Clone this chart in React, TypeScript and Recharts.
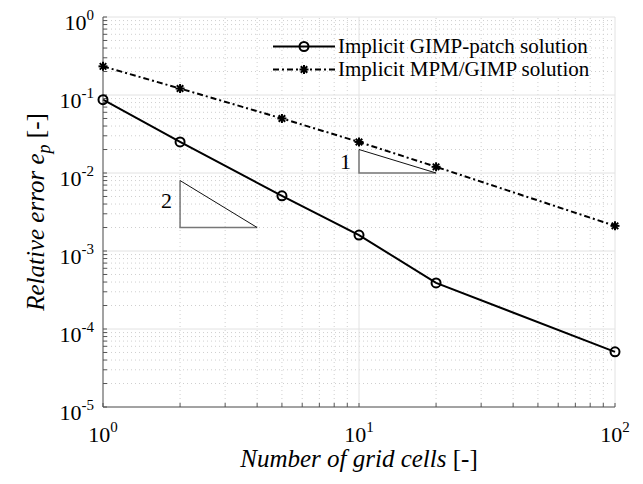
import { LineChart, Line, XAxis, YAxis, ReferenceLine, ReferenceDot, Legend, Label } from 'recharts';

// grid cells and relative errors
const CELLS = [1, 2, 5, 10, 20, 100];
const PATCH_ERR = [0.087, 0.025, 0.0051, 0.0016, 0.00039, 0.000051];
const MPM_ERR = [0.233, 0.121, 0.05, 0.025, 0.012, 0.0021];

// slope triangles (corner points, closed)
const SLOPE1_X = [10, 10, 20, 10];
const SLOPE1_Y = [0.02, 0.01, 0.01, 0.02];
const SLOPE2_X = [2, 2, 4, 2];
const SLOPE2_Y = [0.008, 0.002, 0.002, 0.008];

const X_DECADES = [1, 10, 100];
const Y_DECADES = [1e-5, 1e-4, 1e-3, 1e-2, 1e-1, 1];
const MINOR_STEPS = [2, 3, 4, 5, 6, 7, 8, 9];

const FONT = '"Liberation Serif", "Times New Roman", serif';
const AXIS_COLOR = '#555';

const minorOf = (decades: number[]) =>
  decades.slice(0, -1).flatMap(d => MINOR_STEPS.map(k => d * k));

const X_MINOR = minorOf(X_DECADES);
const Y_MINOR = minorOf(Y_DECADES);
const X_TICKS = [...X_DECADES, ...X_MINOR].sort((a, b) => a - b);
const Y_TICKS = [...Y_DECADES, ...Y_MINOR].sort((a, b) => a - b);

const data = CELLS.map((x, i) => ({ x, patch: PATCH_ERR[i], mpm: MPM_ERR[i] }));
const toPts = (xs: number[], ys: number[]) => xs.map((x, i) => ({ x, y: ys[i] }));
// legs = first three corners, hypotenuse = last two
const tri1Legs = toPts(SLOPE1_X.slice(0, 3), SLOPE1_Y.slice(0, 3));
const tri1Hyp = toPts(SLOPE1_X.slice(2), SLOPE1_Y.slice(2));
const tri2Legs = toPts(SLOPE2_X.slice(0, 3), SLOPE2_Y.slice(0, 3));
const tri2Hyp = toPts(SLOPE2_X.slice(2), SLOPE2_Y.slice(2));

const isDecade = (list: number[], v: number) => list.some(d => Math.abs(d - v) / d < 1e-9);

function XTick({ x, y, payload }: any) {
  if (!isDecade(X_DECADES, payload.value)) return null;
  const e = Math.round(Math.log10(payload.value));
  return (
    <text x={x} y={y + 39} textAnchor="middle" fontFamily={FONT} fontSize={22} fill="#000">
      <tspan>10</tspan>
      <tspan dy={-10} fontSize={15}>{e}</tspan>
    </text>
  );
}

function YTick({ x, y, payload }: any) {
  if (!isDecade(Y_DECADES, payload.value)) return null;
  const e = Math.round(Math.log10(payload.value));
  return (
    <text x={x - 13} y={y + 13} textAnchor="end" fontFamily={FONT} fontSize={22} fill="#000">
      <tspan>10</tspan>
      <tspan dy={-10} fontSize={15}>{e}</tspan>
    </text>
  );
}

function XTitle({ viewBox }: any) {
  return (
    <text x={viewBox.x + viewBox.width / 2} y={viewBox.y + 60} textAnchor="middle" fontFamily={FONT} fontSize={25} fill="#000">
      <tspan fontStyle="italic">Number of grid cells</tspan>
      <tspan> [-]</tspan>
    </text>
  );
}

function YTitle({ viewBox }: any) {
  const cx = viewBox.x + 1;
  const cy = viewBox.y + viewBox.height / 2;
  return (
    <text x={cx} y={cy} transform={`rotate(-90 ${cx} ${cy})`} textAnchor="middle" fontFamily={FONT} fontSize={25} fill="#000">
      <tspan fontStyle="italic">Relative error e</tspan>
      <tspan fontStyle="italic" fontSize={18} dy={6}>p</tspan>
      <tspan dy={-6}> [-]</tspan>
    </text>
  );
}

function Circle({ cx, cy }: any) {
  return <circle cx={cx} cy={cy} r={4.5} fill="none" stroke="#000" strokeWidth={2} />;
}

function Star({ cx, cy }: any) {
  const r = 4.5;
  const d = r * 0.72;
  return (
    <g stroke="#000" strokeWidth={2}>
      <line x1={cx - r} y1={cy} x2={cx + r} y2={cy} />
      <line x1={cx} y1={cy - r} x2={cx} y2={cy + r} />
      <line x1={cx - d} y1={cy - d} x2={cx + d} y2={cy + d} />
      <line x1={cx - d} y1={cy + d} x2={cx + d} y2={cy - d} />
    </g>
  );
}

const LEGEND_ROWS = [
  { name: 'Implicit GIMP-patch solution', dash: undefined, Mark: Circle },
  { name: 'Implicit MPM/GIMP solution', dash: '6 3 2 3', Mark: Star },
];

function LegendBox() {
  return (
    <div>
      {LEGEND_ROWS.map(row => (
        <div key={row.name} style={{ display: 'flex', alignItems: 'center', height: 23 }}>
          <svg width={64} height={23}>
            <line x1={0} y1={11.5} x2={62} y2={11.5} stroke="#000" strokeWidth={2} strokeDasharray={row.dash} />
            <row.Mark cx={31} cy={11.5} />
          </svg>
          <span style={{ fontFamily: FONT, fontSize: 21, lineHeight: '23px', color: '#000', marginLeft: 1, whiteSpace: 'nowrap' }}>
            {row.name}
          </span>
        </div>
      ))}
    </div>
  );
}

export default function App() {
  return (
    <LineChart width={627} height={468} data={data} margin={{ top: 9, right: 20, left: 35, bottom: 29 }}>
      {Y_MINOR.map(v => (
        <ReferenceLine key={`ym${v}`} y={v} stroke="#cfcfcf" strokeDasharray="1 3" />
      ))}
      {X_MINOR.map(v => (
        <ReferenceLine key={`xm${v}`} x={v} stroke="#cfcfcf" strokeDasharray="1 3" />
      ))}
      {Y_DECADES.map(v => (
        <ReferenceLine key={`yM${v}`} y={v} stroke="#e2e2e2" />
      ))}
      {X_DECADES.map(v => (
        <ReferenceLine key={`xM${v}`} x={v} stroke="#e2e2e2" />
      ))}

      <XAxis dataKey="x" type="number" scale="log" domain={[1, 100]} ticks={X_TICKS} interval={0}
        tickSize={-4} tickMargin={0} tick={<XTick />} height={40} stroke={AXIS_COLOR}>
        <Label content={XTitle} />
      </XAxis>
      <YAxis type="number" scale="log" domain={[1e-5, 1]} ticks={Y_TICKS} interval={0}
        tickSize={-4} tickMargin={0} tick={<YTick />} width={60} stroke={AXIS_COLOR}>
        <Label content={YTitle} />
      </YAxis>
      <XAxis xAxisId="top" orientation="top" dataKey="x" type="number" scale="log" domain={[1, 100]}
        ticks={X_TICKS} interval={0} tickSize={-4} tick={false} height={0} stroke={AXIS_COLOR} />
      <YAxis yAxisId="right" orientation="right" type="number" scale="log" domain={[1e-5, 1]}
        ticks={Y_TICKS} interval={0} tickSize={-4} tick={false} width={0} stroke={AXIS_COLOR} />

      <Line data={tri1Legs} dataKey="y" stroke="#777" strokeWidth={1.5} dot={false} isAnimationActive={false} legendType="none" />
      <Line data={tri1Hyp} dataKey="y" stroke="#111" strokeWidth={1} dot={false} isAnimationActive={false} legendType="none" />
      <Line data={tri2Legs} dataKey="y" stroke="#777" strokeWidth={1.5} dot={false} isAnimationActive={false} legendType="none" />
      <Line data={tri2Hyp} dataKey="y" stroke="#111" strokeWidth={1} dot={false} isAnimationActive={false} legendType="none" />
      <ReferenceDot x={10} y={0.0141} r={0} fill="none" stroke="none"
        label={{ value: '1', position: 'left', offset: 8, fontSize: 22, fontFamily: FONT, fill: '#000' }} />
      <ReferenceDot x={2} y={0.0045} r={0} fill="none" stroke="none"
        label={{ value: '2', position: 'left', offset: 8, fontSize: 22, fontFamily: FONT, fill: '#000' }} />

      <Line dataKey="mpm" stroke="#000" strokeWidth={2} strokeDasharray="6 3 2 3" isAnimationActive={false}
        dot={(p: any) => <Star key={`s${p.index}`} cx={p.cx} cy={p.cy} />} />
      <Line dataKey="patch" stroke="#000" strokeWidth={2} isAnimationActive={false}
        dot={(p: any) => <Circle key={`c${p.index}`} cx={p.cx} cy={p.cy} />} />

      <Legend layout="horizontal" verticalAlign="middle" align="center" content={() => <LegendBox />}
        wrapperStyle={{ position: 'absolute', left: 265, top: 27, width: 345, height: 46 }} />
    </LineChart>
  );
}
